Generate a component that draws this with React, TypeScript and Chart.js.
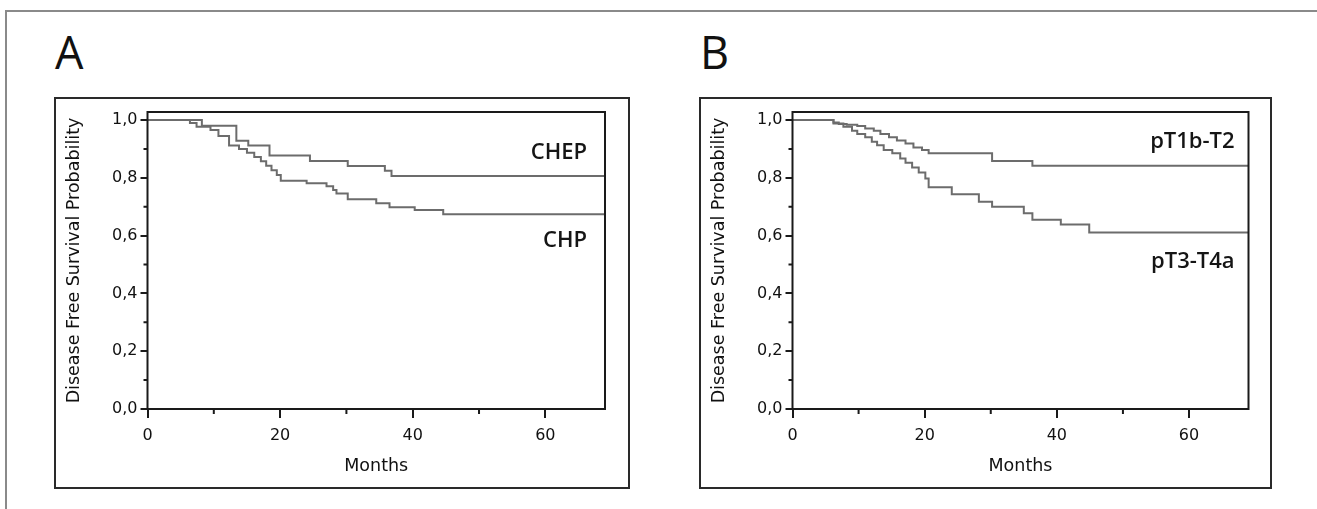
import React, { useEffect, useRef } from 'react';
import { Chart, registerables } from 'chart.js';

Chart.register(...registerables);

// ---- shared axis definitions ----
const xMax = 69;
const yMax = 1.0277;
const xTicksMajor = [0, 20, 40, 60];
const xTicksMinor = [10, 30, 50];
const yTicksMajor = [0, 0.2, 0.4, 0.6, 0.8, 1.0];
const yTicksMinor = [0.1, 0.3, 0.5, 0.7, 0.9];
const yTickLabels = ['0,0', '0,2', '0,4', '0,6', '0,8', '1,0'];
const xTitle = 'Months';
const yTitle = 'Disease Free Survival Probability';

// ---- panel A ----
const chepMonths = [0, 8.2, 13.4, 15.2, 18.4, 24.5, 30.2, 35.8, 36.8, 69];
const chepSurv = [1, 0.98, 0.928, 0.912, 0.877, 0.858, 0.841, 0.824, 0.806, 0.806];
const chpMonths = [0, 6.4, 7.4, 9.5, 10.7, 12.3, 13.8, 15.0, 16.1, 17.1, 17.9, 18.7, 19.5, 20.1, 24.0, 27.0, 28.0, 28.5, 30.2, 34.5, 36.5, 40.3, 44.6, 69];
const chpSurv = [1, 0.99, 0.977, 0.965, 0.945, 0.912, 0.9, 0.887, 0.872, 0.857, 0.842, 0.826, 0.81, 0.79, 0.781, 0.771, 0.758, 0.746, 0.726, 0.712, 0.698, 0.689, 0.674, 0.674];

// ---- panel B ----
const t12Months = [0, 6.2, 7.0, 8.2, 9.8, 11.0, 12.3, 13.3, 14.6, 15.8, 17.1, 18.3, 19.6, 20.6, 30.2, 36.3, 69];
const t12Surv = [1, 0.991, 0.986, 0.984, 0.979, 0.971, 0.963, 0.952, 0.94, 0.929, 0.919, 0.905, 0.896, 0.885, 0.858, 0.842, 0.842];
const t34Months = [0, 6.2, 7.7, 9.0, 9.8, 11.0, 12.0, 12.8, 13.8, 15.1, 16.3, 17.1, 18.1, 19.1, 20.1, 20.6, 24.1, 28.2, 30.2, 35.0, 36.3, 40.6, 44.9, 69];
const t34Surv = [1, 0.988, 0.977, 0.963, 0.952, 0.94, 0.925, 0.913, 0.896, 0.885, 0.867, 0.852, 0.836, 0.818, 0.798, 0.767, 0.743, 0.717, 0.7, 0.677, 0.655, 0.638, 0.611, 0.611];

const panelLetters = ['A', 'B'];
const labelsA = [
  { text: 'CHEP', x: 66.3, y: 0.886 },
  { text: 'CHP', x: 66.3, y: 0.581 },
];
const labelsB = [
  { text: 'pT1b-T2', x: 66.9, y: 0.924 },
  { text: 'pT3-T4a', x: 66.9, y: 0.509 },
];

const curveColor = '#6c6c6c';
const inkColor = '#1a1a1a';
const textColor = '#111';

const decor = {
  id: 'decor',
  afterDraw(chart: any, _args: any, opts: any) {
    const { ctx, chartArea: a, scales } = chart;
    const x = scales.x;
    const y = scales.y;
    ctx.save();
    ctx.lineWidth = 2;
    ctx.strokeStyle = '#2a2a2a';
    ctx.strokeRect(1, 1, chart.width - 2, chart.height - 2);
    ctx.strokeStyle = inkColor;
    ctx.strokeRect(a.left, a.top, a.right - a.left, a.bottom - a.top);
    ctx.beginPath();
    xTicksMinor.forEach((v) => {
      const px = x.getPixelForValue(v);
      ctx.moveTo(px, a.bottom);
      ctx.lineTo(px, a.bottom + 5);
    });
    yTicksMinor.forEach((v) => {
      const py = y.getPixelForValue(v);
      ctx.moveTo(a.left, py);
      ctx.lineTo(a.left - 4, py);
    });
    ctx.stroke();
    ctx.font = '600 22px "Open Sans"';
    ctx.fillStyle = '#151515';
    ctx.textAlign = 'right';
    ctx.textBaseline = 'middle';
    (opts.labels || []).forEach((l: any) => {
      ctx.fillText(l.text, x.getPixelForValue(l.x), y.getPixelForValue(l.y));
    });
    ctx.restore();
  },
};

function toPoints(xs: number[], ys: number[]) {
  return xs.map((m, i) => ({ x: m, y: ys[i] }));
}

function makeConfig(series: { xs: number[]; ys: number[] }[], labels: any[], padRight: number) {
  const tickFont = { family: '"DejaVu Sans", sans-serif', size: 16 };
  const titleFont = { family: '"DejaVu Sans", sans-serif', size: 17.5 };
  return {
    type: 'line',
    data: {
      datasets: series.map((s) => ({
        data: toPoints(s.xs, s.ys),
        borderColor: curveColor,
        borderWidth: 2,
        pointRadius: 0,
        stepped: true,
        fill: false,
      })),
    },
    options: {
      responsive: false,
      animation: false,
      devicePixelRatio: 1,
      layout: { padding: { left: 0, top: 15, right: padRight, bottom: 0 } },
      plugins: {
        legend: { display: false },
        tooltip: { enabled: false },
        decor: { labels },
      },
      scales: {
        x: {
          type: 'linear',
          min: 0,
          max: xMax,
          afterBuildTicks: (s: any) => {
            s.ticks = xTicksMajor.map((v) => ({ value: v }));
          },
          afterFit: (s: any) => {
            s.height = 80;
          },
          border: { display: false },
          grid: { drawOnChartArea: false, drawTicks: true, tickLength: 9, color: inkColor, tickColor: inkColor, lineWidth: 2, tickWidth: 2 },
          ticks: { font: tickFont, color: textColor, padding: 8, maxRotation: 0, autoSkip: false, callback: (v: any) => String(v) },
          title: { display: true, text: xTitle, font: titleFont, color: textColor, padding: { top: 0, bottom: 12 } },
        },
        y: {
          type: 'linear',
          min: 0,
          max: yMax,
          afterBuildTicks: (s: any) => {
            s.ticks = yTicksMajor.map((v) => ({ value: v }));
          },
          afterFit: (s: any) => {
            s.width = 93.5;
          },
          border: { display: false },
          grid: { drawOnChartArea: false, drawTicks: true, tickLength: 7, color: inkColor, tickColor: inkColor, lineWidth: 2, tickWidth: 2 },
          ticks: { font: tickFont, color: textColor, padding: 3, autoSkip: false, callback: (_v: any, i: number) => yTickLabels[i] },
          title: { display: true, text: yTitle, font: titleFont, color: textColor, padding: { top: 10, bottom: 0 } },
        },
      },
    },
    plugins: [decor],
  };
}

function Panel(props: { left: number; width: number; series: any[]; labels: any[]; padRight: number; letter: string }) {
  const ref = useRef<HTMLCanvasElement | null>(null);
  useEffect(() => {
    if (!ref.current) return;
    const chart = new Chart(ref.current, makeConfig(props.series, props.labels, props.padRight) as any);
    return () => chart.destroy();
  }, []);
  return (
    <>
      <div
        style={{
          position: 'absolute',
          left: props.left + 1,
          top: 29,
          fontFamily: '"Open Sans", sans-serif',
          fontSize: 45,
          fontWeight: 500,
          lineHeight: 1,
          color: '#111',
        }}
      >
        {props.letter}
      </div>
      <canvas
        ref={ref}
        width={props.width}
        height={392}
        style={{ position: 'absolute', left: props.left, top: 97, width: props.width, height: 392 }}
      />
    </>
  );
}

export default function App() {
  return (
    <div style={{ position: 'absolute', left: 0, top: 0, right: 0, bottom: 0, background: '#fff', overflow: 'hidden' }}>
      <div
        style={{
          position: 'absolute',
          left: 5,
          top: 10,
          right: 0,
          bottom: 0,
          borderTop: '2px solid #8a8a8a',
          borderLeft: '2px solid #8a8a8a',
        }}
      />
      <Panel
        left={54}
        width={576}
        padRight={25}
        letter={panelLetters[0]}
        labels={labelsA}
        series={[
          { xs: chepMonths, ys: chepSurv },
          { xs: chpMonths, ys: chpSurv },
        ]}
      />
      <Panel
        left={699}
        width={573}
        padRight={23.5}
        letter={panelLetters[1]}
        labels={labelsB}
        series={[
          { xs: t12Months, ys: t12Surv },
          { xs: t34Months, ys: t34Surv },
        ]}
      />
    </div>
  );
}
